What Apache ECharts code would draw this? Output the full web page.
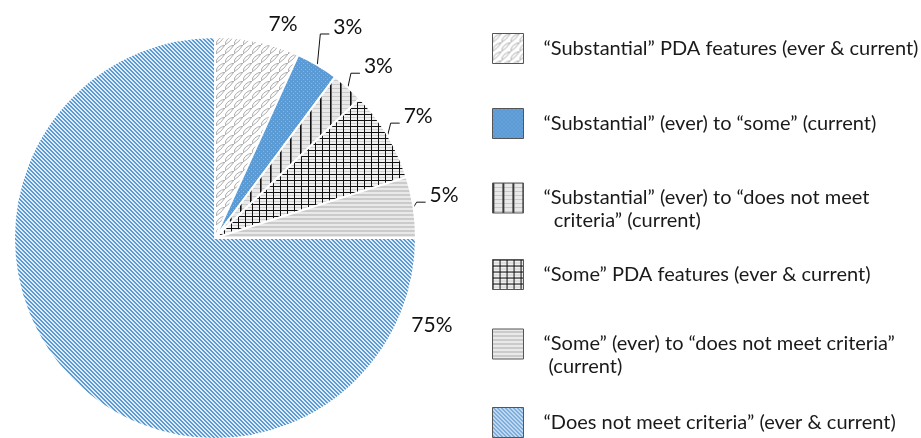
<!DOCTYPE html>
<html>
<head>
<meta charset="utf-8">
<script src="https://cdn.jsdelivr.net/npm/echarts@6/dist/echarts.min.js"></script>
<style>
  html, body { margin: 0; padding: 0; background: #fff; }
  #chart { width: 921px; height: 438px; }
</style>
</head>
<body>
<div id="chart"></div>
<script>
// ---- data ----
const categories = [
  '“Substantial” PDA features (ever & current)',
  '“Substantial” (ever) to “some” (current)',
  '“Substantial” (ever) to “does not meet\n  criteria” (current)',
  '“Some” PDA features (ever & current)',
  '“Some” (ever) to “does not meet criteria”\n (current)',
  '“Does not meet criteria” (ever & current)'
];
const values = [6.8, 3.4, 2.6, 7.3, 4.9, 75.0];

// ---- pattern tiles ----
function tile(w, h, draw) {
  const c = document.createElement('canvas');
  c.width = w; c.height = h;
  const g = c.getContext('2d');
  draw(g, w, h);
  return { image: c, repeat: 'repeat' };
}
const patterns = [
  tile(9, 9, (g) => {
    g.fillStyle = '#ffffff'; g.fillRect(0, 0, 9, 9);
    g.strokeStyle = '#a3a3a3'; g.lineWidth = 0.9;
    g.beginPath(); g.moveTo(0, 9); g.quadraticCurveTo(0.5, 2, 9, 0); g.stroke();
    g.beginPath(); g.moveTo(0, 9); g.quadraticCurveTo(5, 6, 9, 0); g.stroke();
  }),
  tile(4, 4, (g) => {
    g.fillStyle = '#5b9bd5'; g.fillRect(0, 0, 4, 4);
    g.fillStyle = '#86b6e4'; g.fillRect(1, 1, 1, 1); g.fillRect(3, 3, 1, 1);
  }),
  tile(10, 4, (g) => {
    g.fillStyle = '#e9e9e9'; g.fillRect(0, 0, 10, 4);
    g.fillStyle = '#c9c9c9'; g.fillRect(0, 0, 10, 1);
    g.fillStyle = '#111111'; g.fillRect(0, 0, 1, 4);
    g.fillStyle = '#666666'; g.fillRect(1, 0, 1, 4);
  }),
  tile(7, 6, (g) => {
    g.fillStyle = '#f0f0f0'; g.fillRect(0, 0, 7, 6);
    g.fillStyle = '#d0d0d0'; g.fillRect(0, 3, 7, 1);
    g.fillStyle = '#111111'; g.fillRect(0, 0, 7, 1); g.fillRect(0, 0, 1, 6);
  }),
  tile(4, 4, (g) => {
    g.fillStyle = '#e9e9e9'; g.fillRect(0, 0, 4, 4);
    g.fillStyle = '#cbcbcb'; g.fillRect(0, 2, 4, 2);
  }),
  tile(4, 4, (g) => {
    for (let x = 0; x < 4; x++) for (let y = 0; y < 4; y++) {
      g.fillStyle = ((x - y + 8) % 4 < 2) ? '#5b9bd5' : '#e2ecf7';
      g.fillRect(x, y, 1, 1);
    }
  })
];

// ---- layout / style ----
const CX = 215, CY = 238, R = 201;
const FONT = 'Lato';
const labelRise = [0, 31, 14, 12, 5, 0];
const legendIconCenters = [48, 123, 198, 274, 344, 422];
const twoLine = [false, false, true, false, true, false];

const total = values.reduce((a, b) => a + b, 0);
function midAngle(i) {
  let cum = 0;
  for (let k = 0; k < i; k++) cum += values[k];
  return (cum + values[i] / 2) / total * Math.PI * 2;
}

const chart = echarts.init(document.getElementById('chart'), null, { renderer: 'canvas' });

const legends = categories.map((name, i) => ({
  data: [name],
  orient: 'vertical',
  left: 492,
  top: twoLine[i] ? legendIconCenters[i] - 34.5 : legendIconCenters[i] - 15,
  padding: 0,
  itemWidth: 31,
  itemHeight: 30,
  itemGap: 0,
  icon: 'rect',
  selectedMode: false,
  formatter: (n) => (twoLine[i] ? '\n' + n : n),
  itemStyle: { borderColor: '#555555', borderWidth: 1 },
  textStyle: {
    fontFamily: FONT, fontSize: 20, color: '#1a1a1a', lineHeight: 23,
    padding: [0, 0, 0, 15]
  }
}));

chart.setOption({
  animation: false,
  backgroundColor: '#ffffff',
  legend: legends,
  series: [{
    type: 'pie',
    center: [CX, CY],
    radius: R,
    startAngle: 90,
    clockwise: true,
    avoidLabelOverlap: false,
    emphasis: { disabled: true },
    itemStyle: { borderColor: '#ffffff', borderWidth: 2 },
    label: {
      show: true,
      fontFamily: FONT,
      fontSize: 21,
      color: '#111111',
      formatter: (p) => Math.round(p.percent) + '%'
    },
    labelLine: { show: true, lineStyle: { color: '#111111', width: 1 } },
    labelLayout: (p) => {
      const i = p.dataIndex;
      const a = midAngle(i);
      const ex = CX + R * Math.sin(a), ey = CY - R * Math.cos(a);
      if (i === 0) {
        return { x: ex + 11, y: ey - 7, align: 'left', verticalAlign: 'bottom', labelLinePoints: [[ex, ey], [ex, ey], [ex, ey]] };
      }
      if (i === values.length - 1) {
        const ang = 112 / 180 * Math.PI, rr = 234;
        const lx = CX + rr * Math.sin(ang), ly = CY - rr * Math.cos(ang);
        return { x: lx, y: ly, align: 'center', verticalAlign: 'middle', labelLinePoints: [[ex, ey], [ex, ey], [ex, ey]] };
      }
      const mx = ex + 3, my = ey - labelRise[i];
      const lx = mx + 9;
      return {
        x: lx + 4, y: my + 4, align: 'left', verticalAlign: 'bottom',
        labelLinePoints: [[ex, ey], [mx, my], [lx, my]]
      };
    },
    data: categories.map((name, i) => ({
      name: name,
      value: values[i],
      itemStyle: { color: patterns[i] },
      labelLine: { show: i !== 0 && i !== values.length - 1 }
    }))
  }]
});
</script>
</body>
</html>
